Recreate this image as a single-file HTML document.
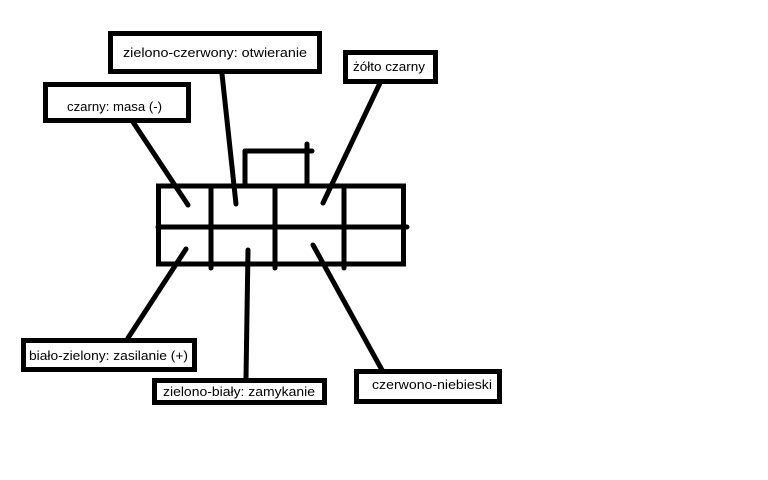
<!DOCTYPE html>
<html><head><meta charset="utf-8"><style>
html,body{margin:0;padding:0;background:#fff;width:768px;height:480px;overflow:hidden}
text{font-family:"Liberation Sans","DejaVu Sans",sans-serif;font-size:13px;fill:#000}
</style></head><body>
<svg width="768" height="480" viewBox="0 0 768 480" xmlns="http://www.w3.org/2000/svg">
<g fill="none" stroke="#000" stroke-width="5" stroke-linecap="round">
<rect x="110.5" y="33.5" width="209" height="38"/>
<rect x="345.5" y="52.5" width="90" height="29"/>
<rect x="45.5" y="84.5" width="143" height="36"/>
<rect x="23.5" y="340.5" width="171" height="29"/>
<rect x="154.5" y="380.5" width="170" height="22"/>
<rect x="356.5" y="371.5" width="143" height="30"/>
<rect x="158.5" y="186" width="245" height="78" stroke-linecap="butt"/>
<line x1="158" y1="227" x2="407" y2="227"/>
<line x1="211" y1="186" x2="211" y2="268"/>
<line x1="275" y1="186" x2="275" y2="268"/>
<line x1="344" y1="186" x2="344" y2="268"/>
<line x1="245" y1="186" x2="245" y2="151"/>
<line x1="245" y1="151" x2="312" y2="151"/>
<line x1="307" y1="186" x2="307" y2="144"/>
<line x1="133" y1="122" x2="188" y2="205"/>
<line x1="222" y1="74" x2="236" y2="204"/>
<line x1="380" y1="83" x2="323" y2="203"/>
<line x1="186" y1="249" x2="128" y2="338"/>
<line x1="248" y1="250" x2="246" y2="378"/>
<line x1="313" y1="245" x2="382" y2="370"/>
</g>
<text x="123" y="57" textLength="184" lengthAdjust="spacingAndGlyphs">zielono-czerwony: otwieranie</text>
<text x="353" y="71" textLength="72" lengthAdjust="spacingAndGlyphs">żółto czarny</text>
<text x="67" y="111" textLength="95" lengthAdjust="spacingAndGlyphs">czarny: masa (-)</text>
<text x="29" y="360" textLength="159" lengthAdjust="spacingAndGlyphs">biało-zielony: zasilanie (+)</text>
<text x="163" y="396" textLength="152" lengthAdjust="spacingAndGlyphs">zielono-biały: zamykanie</text>
<text x="372" y="389" textLength="120" lengthAdjust="spacingAndGlyphs">czerwono-niebieski</text>
</svg>
</body></html>
